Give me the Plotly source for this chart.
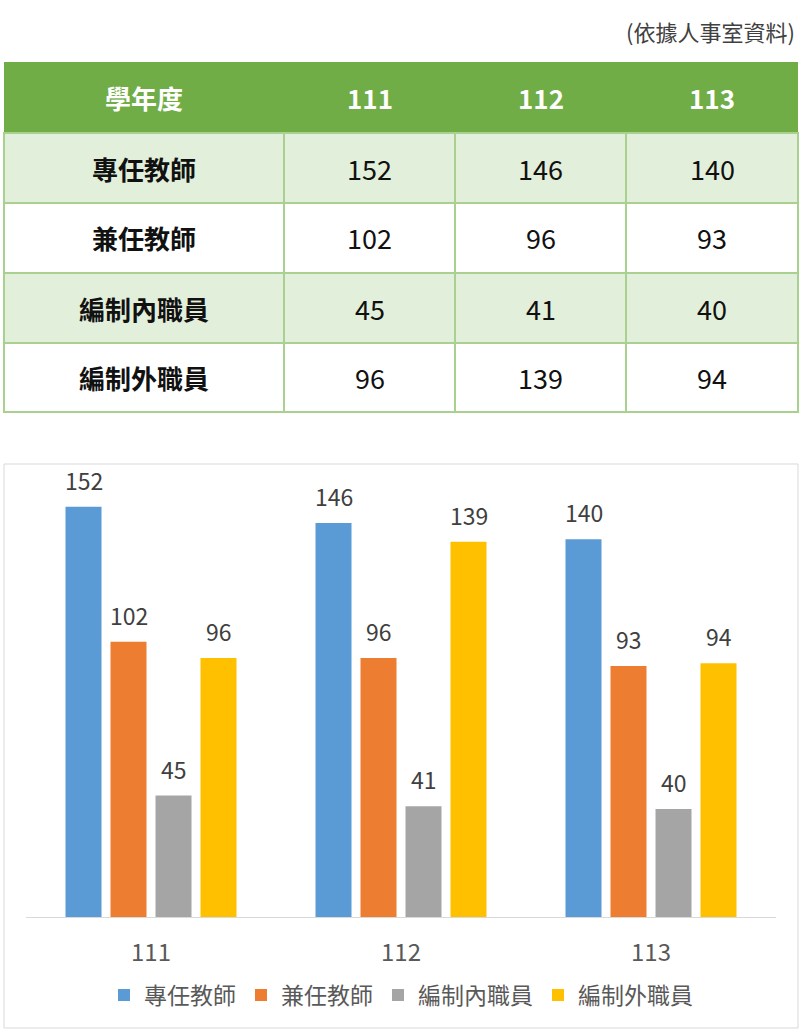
import plotly.graph_objects as go

# ---------------- data ----------------
years = ["111", "112", "113"]
series_names = ["專任教師", "兼任教師", "編制內職員", "編制外職員"]
full_time = [152, 146, 140]
part_time = [102, 96, 93]
staff_in = [45, 41, 40]
staff_out = [96, 139, 94]
header_label = "學年度"
source_note = "(依據人事室資料)"

series_values = [full_time, part_time, staff_in, staff_out]
colors = ["#5B9BD5", "#ED7D31", "#A5A5A5", "#FFC000"]

W, H = 802, 1033
FONT = "Noto Sans CJK TC"

PLOT_X0, PLOT_X1 = 26, 776
BARGAP, BARGROUPGAP = 0.28, 0.2


def xp(px):
    return px / W


def yp(py):
    return 1 - py / H


fig = go.Figure()
annotations = []
shapes = []

cat_px = (PLOT_X1 - PLOT_X0) / len(years)
slot_px = cat_px * (1 - BARGAP) / len(series_names)

for i, (name, vals, col) in enumerate(zip(series_names, series_values, colors)):
    fig.add_trace(go.Bar(
        x=years, y=vals, name=name, marker=dict(color=col, line=dict(width=0)),
        cliponaxis=False,
    ))
    # value labels above each bar, positioned through the category axis
    for j, v in enumerate(vals):
        annotations.append(dict(
            xref="x", yref="y", x=j, y=v, text=str(v), showarrow=False,
            xshift=(i - (len(series_names) - 1) / 2) * slot_px,
            yshift=27, xanchor="center", yanchor="middle",
            font=dict(size=23, color="#404040", family=FONT)))

# ---------------- table (layout positions) ----------------
col_edges = [4, 284, 455, 626, 798]
row_edges = [62, 133, 203, 273, 343, 412]
header_fill = "#70AD47"
alt_fill = "#E2EFDA"
border = "#A9D08E"

shapes.append(dict(type="rect", xref="paper", yref="paper",
                   x0=xp(col_edges[0]), x1=xp(col_edges[-1]),
                   y0=yp(row_edges[1]), y1=yp(row_edges[0]),
                   fillcolor=header_fill, line=dict(width=0), layer="below"))
header_texts = [header_label] + years
for c, t in enumerate(header_texts):
    annotations.append(dict(xref="paper", yref="paper",
                            x=xp((col_edges[c] + col_edges[c + 1]) / 2),
                            y=yp((row_edges[0] + row_edges[1]) / 2),
                            text=f"<b>{t}</b>", showarrow=False,
                            xanchor="center", yanchor="middle",
                            font=dict(size=26, color="white", family=FONT)))

for r, (name, vals) in enumerate(zip(series_names, series_values)):
    y0p, y1p = row_edges[r + 1], row_edges[r + 2]
    fill = alt_fill if r % 2 == 0 else "white"
    for c in range(4):
        shapes.append(dict(type="rect", xref="paper", yref="paper",
                           x0=xp(col_edges[c]), x1=xp(col_edges[c + 1]),
                           y0=yp(y1p), y1=yp(y0p),
                           fillcolor=fill, line=dict(color=border, width=2),
                           layer="below"))
    for c, t in enumerate([name] + [str(v) for v in vals]):
        label = f"<b>{t}</b>" if c == 0 else t
        annotations.append(dict(xref="paper", yref="paper",
                                x=xp((col_edges[c] + col_edges[c + 1]) / 2),
                                y=yp((y0p + y1p) / 2),
                                text=label, showarrow=False,
                                xanchor="center", yanchor="middle",
                                font=dict(size=26 if c == 0 else 27,
                                          color="#111111", family=FONT)))

# source note
annotations.append(dict(xref="paper", yref="paper", x=xp(797), y=yp(31),
                        text=source_note, showarrow=False,
                        xanchor="right", yanchor="middle",
                        font=dict(size=22, color="#404040", family=FONT)))

# chart frame
shapes.append(dict(type="rect", xref="paper", yref="paper",
                   x0=xp(4), x1=xp(798), y0=yp(1028), y1=yp(464),
                   line=dict(color="#D9D9D9", width=1), fillcolor="rgba(0,0,0,0)",
                   layer="below"))

fig.update_layout(
    width=W, height=H, autosize=False,
    margin=dict(l=0, r=0, t=0, b=0),
    paper_bgcolor="white", plot_bgcolor="white",
    barmode="group", bargap=BARGAP, bargroupgap=BARGROUPGAP,
    font=dict(family=FONT, color="#404040"),
    xaxis=dict(type="category", categoryorder="array", categoryarray=years,
               range=[-0.5, len(years) - 0.5],
               domain=[xp(PLOT_X0), xp(PLOT_X1)], showgrid=False, zeroline=False,
               showline=True, linecolor="#D9D9D9", linewidth=1,
               ticks="", ticklabelstandoff=14,
               tickfont=dict(size=24, color="#595959", family=FONT)),
    yaxis=dict(domain=[yp(917), yp(469)], range=[0, 166], visible=False,
               showgrid=False, zeroline=False),
    legend=dict(orientation="h", x=0.5, xanchor="center", y=yp(995),
                yanchor="middle", font=dict(size=23, color="#595959", family=FONT),
                bgcolor="rgba(0,0,0,0)", itemwidth=30, traceorder="normal"),
    shapes=shapes, annotations=annotations,
    showlegend=True,
)

fig.write_html("out.html")
